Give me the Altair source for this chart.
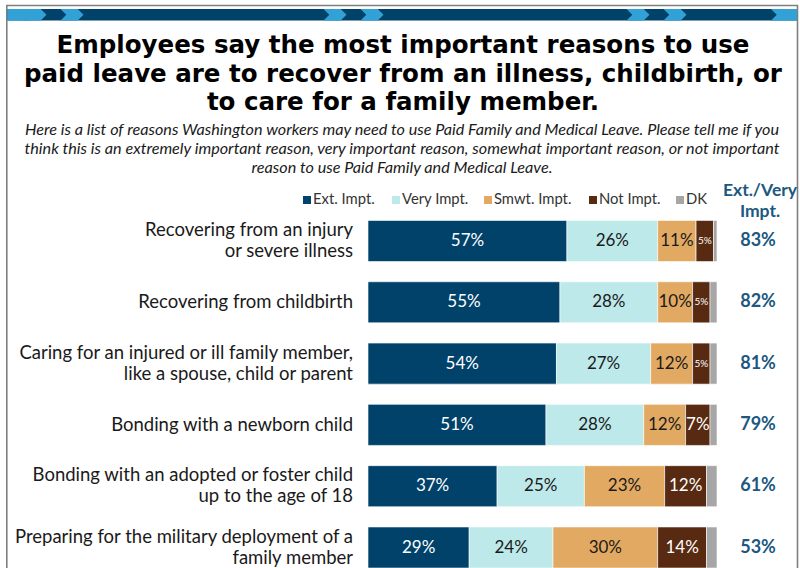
import altair as alt
import pandas as pd

# ---------------- data ----------------
keys = ["injury", "childbirth", "caring", "newborn", "adopted", "military"]
row_labels = [
    "Recovering from an injury\nor severe illness",
    "Recovering from childbirth",
    "Caring for an injured or ill family member,\nlike a spouse, child or parent",
    "Bonding with a newborn child",
    "Bonding with an adopted or foster child\nup to the age of 18",
    "Preparing for the military deployment of a\nfamily member",
]
series = ["Ext. Impt.", "Very Impt.", "Smwt. Impt.", "Not Impt.", "DK"]
ext_impt = [57, 55, 54, 51, 37, 29]
very_impt = [26, 28, 27, 28, 25, 24]
smwt_impt = [11, 10, 12, 12, 23, 30]
not_impt = [5, 5, 5, 7, 12, 14]
dk = [1, 2, 2, 2, 3, 3]
ext_very = [83, 82, 81, 79, 61, 53]

title_lines = [
    "Employees say the most important reasons to use",
    "paid leave are to recover from an illness, childbirth, or",
    "to care for a family member.",
]
subtitle_lines = [
    "Here is a list of reasons Washington workers may need to use Paid Family and Medical Leave. Please tell me if you",
    "think this is an extremely important reason, very important reason, somewhat important reason, or not important",
    "reason to use Paid Family and Medical Leave.",
]
header_lines = ["Ext./Very", "Impt."]

colors = ["#00426A", "#BDE9EA", "#E2A962", "#582A11", "#A6A6A6"]
navy = "#00426A"
sky = "#31A1D6"
teal_text = "#1C5880"

# layout positions (px): legend entries and banner chevrons
legend_x = [303, 392, 484, 589, 676]
chevron_x = [24, 61, 324, 361, 627, 664]

# ---------------- tables ----------------
vals = [ext_impt, very_impt, smwt_impt, not_impt, dk]
rows = []
for i, k in enumerate(keys):
    cum = 0
    for s, arr in zip(series, vals):
        v = arr[i]
        rows.append(dict(key=k, cat=s, value=v, start=cum, end=cum + v,
                         mid=cum + v / 2, txt=f"{v}%",
                         fs=10 if v <= 5 else 17))
        cum += v
bars_df = pd.DataFrame(rows)
lab_df = bars_df[bars_df.cat != "DK"]
white_df = lab_df[lab_df.cat.isin(["Ext. Impt.", "Not Impt."])]
dark_df = lab_df[lab_df.cat.isin(["Very Impt.", "Smwt. Impt."])]
row_df = pd.DataFrame(dict(key=keys, label=row_labels,
                           tot=[f"{t}%" for t in ext_very]))
row_df["lines"] = row_df.label.str.count("\n") + 1
one_line_df = row_df[row_df.lines == 1]
two_line_df = row_df[row_df.lines == 2]
leg_df = pd.DataFrame(dict(cat=series, lx=legend_x))

FONT = "Lato"
xs = alt.Scale(domain=[0, 100], range=[368, 717])
ys = alt.Scale(domain=keys, range=[210.35, 578.15], paddingInner=0.33,
               paddingOuter=0.165)
Y = alt.Y("key:N", scale=ys, axis=None, sort=keys)
cscale = alt.Scale(domain=series, range=colors)
px = alt.Scale(domain=[0, 800], range=[0, 800])

bars = alt.Chart(bars_df).mark_bar(stroke="white", strokeWidth=0.6).encode(
    x=alt.X("start:Q", scale=xs, axis=None),
    x2="end:Q",
    y=Y,
    color=alt.Color("cat:N", sort=series, scale=cscale, legend=None),
)

# legend (manual, horizontal)
leg_sq = alt.Chart(leg_df).transform_calculate(cx="datum.lx + 4").mark_square(
    size=64, filled=True, opacity=1, strokeWidth=0).encode(
    x=alt.X("cx:Q", scale=px, axis=None), y=alt.value(200),
    color=alt.Color("cat:N", sort=series, scale=cscale, legend=None))
leg_tx = alt.Chart(leg_df).transform_calculate(tx="datum.lx + 10").mark_text(
    font=FONT, fontSize=14.8, align="left", baseline="middle",
    color="#333333").encode(
    x=alt.X("tx:Q", scale=px, axis=None), y=alt.value(200), text="cat:N")

def seg_labels(df, color):
    return alt.Chart(df).mark_text(font=FONT, color=color, baseline="middle",
                                   align="center").encode(
        x=alt.X("mid:Q", scale=xs, axis=None),
        y=Y,
        text="txt:N",
        size=alt.Size("fs:Q", scale=None),
    )

LBL = 18.5
row_text1 = alt.Chart(one_line_df).mark_text(
    font=FONT, fontSize=LBL, align="right", baseline="middle",
    color="#1a1a1a").encode(x=alt.value(353), y=Y, text="label:N")
row_text2 = alt.Chart(two_line_df).mark_text(
    font=FONT, fontSize=LBL, align="right", baseline="middle",
    lineBreak="\n", lineHeight=21, dy=-11, color="#1a1a1a").encode(
    x=alt.value(353), y=Y, text="label:N")

tot_text = alt.Chart(row_df).mark_text(
    font=FONT, fontSize=18, fontWeight="bold", align="center",
    baseline="middle", color=teal_text).encode(
    x=alt.value(758), y=Y, text="tot:N")

one = pd.DataFrame({"a": [0]})

def fixed_text(s, x, y, **kw):
    return alt.Chart(one).mark_text(text=s, **kw).encode(
        x=alt.value(x), y=alt.value(y))

layers = []
# frame
layers.append(alt.Chart(one).mark_rect(fill="white", stroke="#7F7F7F",
                                       strokeWidth=1.6).encode(
    x=alt.value(6.8), x2=alt.value(797.5), y=alt.value(5.5), y2=alt.value(640)))
# banner
layers.append(alt.Chart(one).mark_rect(color=navy).encode(
    x=alt.value(7.5), x2=alt.value(797), y=alt.value(9), y2=alt.value(20.5)))
layers.append(alt.Chart(one).mark_rect(color=sky).encode(
    x=alt.value(7.5), x2=alt.value(29.5), y=alt.value(9), y2=alt.value(20.5)))
layers.append(alt.Chart(one).mark_rect(color=sky).encode(
    x=alt.value(771), x2=alt.value(797), y=alt.value(9), y2=alt.value(20.5)))
chev_df = pd.DataFrame({"lx": chevron_x})
layers.append(alt.Chart(chev_df).transform_calculate(cx="datum.lx + 11")
              .mark_point(
    shape="M-2,-1 L1,-1 L2,0 L1,1 L-2,1 L-1,0 Z", size=132, filled=True,
    opacity=1, color=sky, strokeWidth=0).encode(
    x=alt.X("cx:Q", scale=px, axis=None),
    y=alt.value(14.75)))
layers.append(alt.Chart(one).mark_point(
    shape="M0,-1 L1,0 L0,1 Z", size=132, filled=True, opacity=1,
    color=navy, strokeWidth=0).encode(x=alt.value(771), y=alt.value(14.75)))

# title
for i, line in enumerate(title_lines):
    layers.append(fixed_text(line, 403, 53 + i * 28.7, font="DejaVu Sans",
                             fontWeight="bold", fontSize=24.5, align="center",
                             baseline="alphabetic", color="#000000"))
for i, line in enumerate(subtitle_lines):
    layers.append(fixed_text(line, 402, 135 + i * 19, font=FONT,
                             fontStyle="italic", fontSize=16.2,
                             align="center", baseline="alphabetic",
                             color="#1a1a1a"))
for i, line in enumerate(header_lines):
    layers.append(fixed_text(line, 760, 196 + i * 21, font=FONT,
                             fontWeight="bold", fontSize=17.5, align="center",
                             baseline="alphabetic", color=teal_text))

layers += [bars, leg_sq, leg_tx,
           seg_labels(white_df, "white"), seg_labels(dark_df, "#1a1a1a"),
           row_text1, row_text2, tot_text]

chart = alt.layer(*layers).properties(
    width=800, height=568, padding=0,
    autosize=alt.AutoSizeParams(type="none"),
).resolve_scale(x="independent").configure_view(stroke=None)

chart.save("out.html", embed_options={"renderer": "svg", "actions": False})
